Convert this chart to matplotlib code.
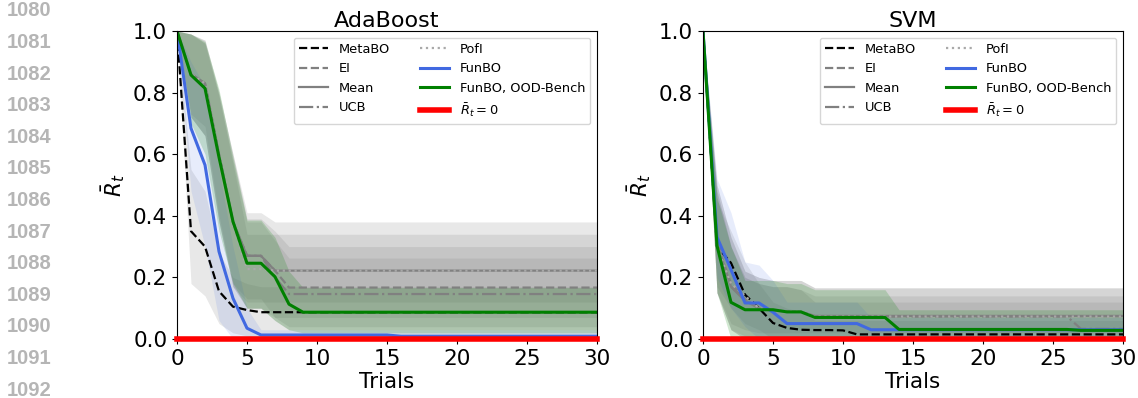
import numpy as np
import matplotlib
matplotlib.use("Agg")
import matplotlib.pyplot as plt

# trials on the x axis
trials = list(range(31))

# page line numbers down the left margin
line_numbers = ["1080", "1081", "1082", "1083", "1084", "1085", "1086",
                "1087", "1088", "1089", "1090", "1091", "1092"]

# ---------------- AdaBoost ----------------
metabo_ada = [1.0, 0.35, 0.30, 0.155, 0.105, 0.094] + [0.087] * 25
ei_ada = [1.0, 0.86, 0.83, 0.60, 0.38, 0.27, 0.27, 0.222] + [0.167] * 23
mean_ada = [1.0, 0.86, 0.83, 0.60, 0.38, 0.27, 0.27] + [0.222] * 24
ucb_ada = [1.0, 0.86, 0.83, 0.60, 0.38, 0.27, 0.27, 0.20] + [0.146] * 23
pofi_ada = [1.0, 0.86, 0.83, 0.60, 0.37, 0.227, 0.227] + [0.222] * 24
funbo_ada = [1.0, 0.684, 0.565, 0.284, 0.132, 0.035] + [0.013] * 10 + [0.009] * 15
ood_ada = [1.0, 0.857, 0.814, 0.59, 0.381, 0.246, 0.246, 0.202, 0.113] + [0.087] * 22

metabo_ada_lo = [1.0, 0.18, 0.14, 0.05, 0.02, 0.01] + [0.0] * 25
metabo_ada_hi = [1.0, 0.55, 0.48, 0.28, 0.20, 0.18] + [0.17] * 25
ei_ada_lo = [1.0, 0.72, 0.66, 0.38, 0.17, 0.10, 0.10, 0.07] + [0.04] * 23
ei_ada_hi = [1.0, 0.99, 0.97, 0.80, 0.60, 0.39, 0.39, 0.35] + [0.30] * 23
mean_ada_lo = [1.0, 0.73, 0.69, 0.40, 0.18, 0.13, 0.13] + [0.07] * 24
mean_ada_hi = [1.0, 0.99, 0.97, 0.80, 0.60, 0.41, 0.41] + [0.38] * 24
ucb_ada_lo = [1.0, 0.72, 0.66, 0.38, 0.17, 0.10, 0.10, 0.06] + [0.03] * 23
ucb_ada_hi = [1.0, 0.99, 0.96, 0.79, 0.58, 0.38, 0.38, 0.32] + [0.263] * 23
pofi_ada_lo = [1.0, 0.72, 0.66, 0.38, 0.17, 0.12, 0.12] + [0.12] * 24
pofi_ada_hi = [1.0, 0.99, 0.96, 0.79, 0.57, 0.34, 0.34] + [0.34] * 24
funbo_ada_lo = [1.0, 0.48, 0.30, 0.06, 0.0, 0.0] + [0.0] * 25
funbo_ada_hi = [1.0, 0.90, 0.82, 0.55, 0.30, 0.10] + [0.03] * 25
ood_ada_lo = [1.0, 0.70, 0.60, 0.35, 0.18, 0.10, 0.10, 0.06, 0.03] + [0.02] * 22
ood_ada_hi = [1.0, 0.99, 0.965, 0.81, 0.59, 0.386, 0.386, 0.33, 0.22] + [0.167] * 22

# ---------------- SVM ----------------
metabo_svm = [1.0, 0.30, 0.247, 0.144, 0.10, 0.052, 0.036, 0.030, 0.029, 0.029, 0.028] + [0.015] * 20
ei_svm = [1.0, 0.31, 0.18, 0.13, 0.10, 0.092, 0.09, 0.088] + [0.074] * 23
mean_svm = [1.0, 0.31, 0.17, 0.125, 0.10, 0.092, 0.09, 0.088] + [0.075] * 23
ucb_svm = [1.0, 0.31, 0.17, 0.125, 0.10, 0.092, 0.09, 0.088] + [0.073] * 19 + [0.033] * 4
pofi_svm = [1.0, 0.30, 0.18, 0.14, 0.10, 0.092, 0.09, 0.088] + [0.073] * 23
funbo_svm = [1.0, 0.331, 0.225, 0.117, 0.117, 0.087, 0.050, 0.050, 0.050, 0.050,
             0.050, 0.050] + [0.030] * 19
ood_svm = [1.0, 0.303, 0.119, 0.095, 0.095, 0.095, 0.088, 0.088, 0.070, 0.070,
           0.070, 0.070, 0.070, 0.070] + [0.031] * 13 + [0.028] * 4

metabo_svm_lo = [1.0, 0.17, 0.10, 0.05, 0.03] + [0.0] * 26
metabo_svm_hi = [1.0, 0.45, 0.35, 0.25, 0.18, 0.12, 0.10, 0.09] + [0.06] * 23
ei_svm_lo = [1.0, 0.15, 0.03] + [0.0] * 28
ei_svm_hi = [1.0, 0.50, 0.33, 0.22, 0.20, 0.19, 0.19, 0.19] + [0.166] * 23
mean_svm_lo = [1.0, 0.15, 0.03, 0.01] + [0.0] * 27
mean_svm_hi = [1.0, 0.50, 0.33, 0.22, 0.20, 0.19, 0.19, 0.19] + [0.166] * 23
ucb_svm_lo = [1.0, 0.15, 0.03] + [0.0] * 28
ucb_svm_hi = [1.0, 0.48, 0.30, 0.20, 0.18, 0.17, 0.17, 0.16] + [0.14] * 23
pofi_svm_lo = [1.0, 0.15, 0.05, 0.03] + [0.02] * 27
pofi_svm_hi = [1.0, 0.48, 0.30, 0.20, 0.18, 0.17, 0.17, 0.16] + [0.12] * 23
funbo_svm_lo = [1.0, 0.20, 0.10, 0.04] + [0.0] * 27
funbo_svm_hi = [1.0, 0.52, 0.41, 0.25, 0.24, 0.19, 0.12, 0.12, 0.12, 0.12,
                0.12, 0.12] + [0.07] * 19
ood_svm_lo = [1.0, 0.15] + [0.0] * 29
ood_svm_hi = [1.0, 0.46, 0.30, 0.19, 0.19, 0.19, 0.18, 0.18, 0.16, 0.16,
              0.16, 0.16, 0.16, 0.16] + [0.095] * 17

panels = [
    ("AdaBoost", metabo_ada, ei_ada, mean_ada, ucb_ada, pofi_ada, funbo_ada, ood_ada,
     [(metabo_ada_lo, metabo_ada_hi), (ei_ada_lo, ei_ada_hi), (mean_ada_lo, mean_ada_hi),
      (ucb_ada_lo, ucb_ada_hi), (pofi_ada_lo, pofi_ada_hi), (funbo_ada_lo, funbo_ada_hi),
      (ood_ada_lo, ood_ada_hi)]),
    ("SVM", metabo_svm, ei_svm, mean_svm, ucb_svm, pofi_svm, funbo_svm, ood_svm,
     [(metabo_svm_lo, metabo_svm_hi), (ei_svm_lo, ei_svm_hi), (mean_svm_lo, mean_svm_hi),
      (ucb_svm_lo, ucb_svm_hi), (pofi_svm_lo, pofi_svm_hi), (funbo_svm_lo, funbo_svm_hi),
      (ood_svm_lo, ood_svm_hi)]),
]

# style per method: color, linestyle, linewidth, label, band color, band alpha
styles = [
    ("black", "--", 1.6, "MetaBO", "gray", 0.18),
    ("gray", "--", 1.6, "EI", "gray", 0.18),
    ("gray", "-", 1.6, "Mean", "gray", 0.18),
    ("gray", "-.", 1.6, "UCB", "gray", 0.18),
    ("darkgray", ":", 1.6, "PofI", "gray", 0.18),
    ("royalblue", "-", 2.2, "FunBO", "royalblue", 0.12),
    ("green", "-", 2.2, "FunBO, OOD-Bench", "green", 0.18),
]

fig = plt.figure(figsize=(11.38, 3.98), dpi=100)
ax_left = fig.add_axes([177 / 1138, 59 / 398, 420 / 1138, 308 / 398])
ax_right = fig.add_axes([703 / 1138, 59 / 398, 420 / 1138, 308 / 398])

for ax, panel in zip([ax_left, ax_right], panels):
    title = panel[0]
    series = panel[1:8]
    bands = panel[8]
    x = np.array(trials)

    for (lo, hi), st in zip(bands, styles):
        ax.fill_between(x, lo, hi, color=st[4], alpha=st[5], linewidth=0)

    for y, st in zip(series, styles):
        ax.plot(x, y, color=st[0], linestyle=st[1], linewidth=st[2], label=st[3])

    ax.axhline(0.0, color="red", linewidth=4, label=r"$\bar{R}_t = 0$", clip_on=False, zorder=5)

    ax.set_xlim(0, 30)
    ax.set_ylim(0, 1.0)
    ax.set_xticks([0, 5, 10, 15, 20, 25, 30])
    ax.set_yticks([0.0, 0.2, 0.4, 0.6, 0.8, 1.0])
    ax.tick_params(labelsize=15.5)
    ax.set_title(title, fontsize=16, pad=3)
    ax.set_xlabel("Trials", fontsize=15.5, labelpad=2)
    ax.set_ylabel(r"$\bar{R}_t$", fontsize=15.5)
    ax.legend(loc="upper right", ncol=2, fontsize=9.4, handlelength=2.25,
              columnspacing=2.3)

for i, num in enumerate(line_numbers):
    fig.text(7 / 1138, 1 - (11 + 31.6 * i) / 398, num, fontsize=14.5, fontweight="bold",
             family="Liberation Sans", color="#b5b5b5", va="center", ha="left")

fig.savefig("out.png", dpi=100)
